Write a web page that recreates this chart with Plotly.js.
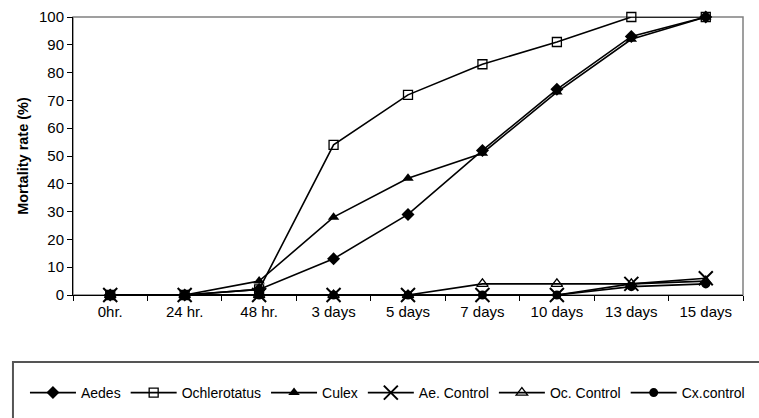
<!DOCTYPE html>
<html>
<head>
<meta charset="utf-8">
<script src="https://cdn.plot.ly/plotly-3.0.1.min.js"></script>
<style>html,body{margin:0;padding:0;background:#fff;}#chart{width:759px;height:418px;}</style>
</head>
<body>
<div id="chart"></div>
<script>
var categories = ["0hr.", "24 hr.", "48 hr.", "3 days", "5 days", "7 days", "10 days", "13 days", "15 days"];
var aedes       = [0, 0, 2, 13, 29, 52, 74, 93, 100];
var ochlerotatus= [0, 0, 2, 54, 72, 83, 91, 100, 100];
var culex       = [0, 0, 5, 28, 42, 51, 73, 92, 100];
var aeControl   = [0, 0, 0, 0, 0, 0, 0, 4, 6];
var ocControl   = [0, 0, 0, 0, 0, 4, 4, 4, 5];
var cxControl   = [0, 0, 0, 0, 0, 0, 0, 3, 4];
var seriesNames = ["Aedes", "Ochlerotatus", "Culex", "Ae. Control", "Oc. Control", "Cx.control"];

function tr(name, y, symbol, size, lw) {
  return {
    type: "scatter", mode: "lines+markers", name: name, x: categories, y: y,
    line: {color: "#000", width: 1.6},
    marker: {symbol: symbol, size: size, color: "#000", line: {color: "#000", width: lw}},
    cliponaxis: false
  };
}
var data = [
  tr(seriesNames[0], aedes, "diamond", 10, 0),
  tr(seriesNames[1], ochlerotatus, "square-open", 9, 1.3),
  tr(seriesNames[2], culex, "triangle-up", 10, 0),
  tr(seriesNames[3], aeControl, "x-thin-open", 14, 2),
  tr(seriesNames[4], ocControl, "triangle-up-open", 10, 1.3),
  tr(seriesNames[5], cxControl, "circle", 9, 0)
];
var layout = {
  width: 759, height: 418,
  margin: {l: 73, r: 16, t: 17, b: 123, autoexpand: false},
  paper_bgcolor: "#fff", plot_bgcolor: "#fff",
  font: {family: "Liberation Sans, Arial, sans-serif", color: "#000", size: 14},
  showlegend: true,
  legend: {orientation: "h", x: -0.0717, xanchor: "left", y: -0.3525, yanchor: "middle",
           font: {size: 14}, itemwidth: 46, bgcolor: "rgba(0,0,0,0)", traceorder: "normal"},
  xaxis: {type: "category", showgrid: false, zeroline: false, showline: true, linecolor: "#000", linewidth: 1,
          ticks: "outside", tickson: "boundaries", ticklen: 5, tickcolor: "#000", ticklabelstandoff: 3,
          tickfont: {size: 15}, range: [-0.5, 8.5], automargin: false},
  yaxis: {range: [0, 100], dtick: 10, showgrid: false, zeroline: false, showline: true, linecolor: "#000", linewidth: 1,
          ticks: "outside", ticklen: 5, tickcolor: "#000", tickfont: {size: 15}, automargin: false,
          title: {text: "<b>Mortality rate (%)</b>", font: {size: 14.5}, standoff: 6}},
  shapes: [
    {type: "rect", xref: "paper", yref: "paper", x0: 0, x1: 1, y0: 0, y1: 1,
     line: {color: "#808080", width: 1.5}, layer: "below"},
    {type: "rect", xref: "paper", yref: "paper", x0: -0.0896, x1: 1.05, y0: -0.241, y1: -0.5,
     line: {color: "#555", width: 2}, layer: "below"}
  ]
};
Plotly.newPlot("chart", data, layout, {displayModeBar: false, staticPlot: true});
</script>
</body>
</html>
